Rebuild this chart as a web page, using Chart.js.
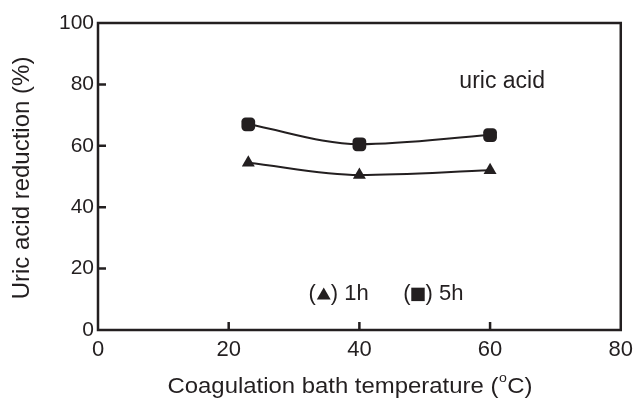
<!DOCTYPE html>
<html>
<head>
<meta charset="utf-8">
<script src="https://cdn.jsdelivr.net/npm/chart.js@4"></script>
<style>
  html, body { margin: 0; padding: 0; background: #fff; }
  #wrap { width: 640px; height: 400px; }
</style>
</head>
<body>
<div id="wrap"><canvas id="uricChart" width="640" height="400"></canvas></div>
<script>
const temps = [23, 40, 60];
const oneHour = [54.5, 50.5, 52];
const fiveHour = [67, 60.5, 63.5];
const xTicks = [0, 20, 40, 60, 80];
const yTicks = [0, 20, 40, 60, 80, 100];

const ink = '#231f20';
const font = "'Liberation Sans', Arial, Helvetica, sans-serif";

function toPoints(xs, ys) {
    return xs.map((x, i) => ({ x: x, y: ys[i] }));
}

// frame, inward ticks, axis titles and the text notes inside the plot
const framePlugin = {
    id: 'frame',
    afterDatasetsDraw(chart) {
        const ctx = chart.ctx;
        const a = chart.chartArea;
        const xs = chart.scales.x, ys = chart.scales.y;
        ctx.save();
        ctx.strokeStyle = ink;
        ctx.lineWidth = 2.5;
        ctx.strokeRect(a.left, a.top, a.right - a.left, a.bottom - a.top);
        ctx.beginPath();
        xTicks.slice(1, -1).forEach(v => {
            const px = xs.getPixelForValue(v);
            ctx.moveTo(px, a.bottom);
            ctx.lineTo(px, a.bottom - 8);
        });
        yTicks.slice(1, -1).forEach(v => {
            const py = ys.getPixelForValue(v);
            ctx.moveTo(a.left, py);
            ctx.lineTo(a.left + 8, py);
        });
        ctx.stroke();

        ctx.fillStyle = ink;
        ctx.font = '23px ' + font;
        ctx.textBaseline = 'middle';
        ctx.textAlign = 'left';
        ctx.fillText('uric acid', xs.getPixelForValue(55.3), ys.getPixelForValue(80.8));

        // legend written as text with the marker shapes
        ctx.font = '22px ' + font;
        const ly = ys.getPixelForValue(11.6);
        let lx = xs.getPixelForValue(32.2);
        ctx.fillText('(', lx, ly);
        lx += ctx.measureText('(').width;
        Chart.helpers.drawPoint(ctx, { pointStyle: 'triangle', radius: 8, rotation: 0 }, lx + 8, ly + 1);
        ctx.fillText(') 1h', lx + 15, ly);

        lx = xs.getPixelForValue(46.7);
        ctx.fillText('(', lx, ly);
        lx += ctx.measureText('(').width;
        Chart.helpers.drawPoint(ctx, { pointStyle: 'rect', radius: 9.5, rotation: 0 }, lx + 7.5, ly);
        ctx.fillText(') 5h', lx + 15, ly);

        // y axis title
        ctx.save();
        ctx.translate(22, 178);
        ctx.rotate(-Math.PI / 2);
        ctx.textAlign = 'center';
        ctx.font = '24px ' + font;
        ctx.fillText('Uric acid reduction (%)', 0, 0);
        ctx.restore();

        // x axis title with a raised "o" for degrees
        const partA = 'Coagulation bath temperature (';
        const partC = 'C)';
        ctx.font = '22px ' + font;
        const wA = ctx.measureText(partA).width;
        const wC = ctx.measureText(partC).width;
        ctx.font = '13px ' + font;
        const wO = ctx.measureText('o').width + 1;
        const total = wA + wO + wC;
        const target = 365;
        ctx.save();
        ctx.translate(350 - target / 2, 387);
        ctx.scale(target / total, 1);
        ctx.font = '22px ' + font;
        ctx.fillText(partA, 0, 0);
        ctx.font = '13px ' + font;
        ctx.fillText('o', wA + 0.5, -9);
        ctx.font = '22px ' + font;
        ctx.fillText(partC, wA + wO, 0);
        ctx.restore();
        ctx.restore();
    }
};

new Chart(document.getElementById('uricChart').getContext('2d'), {
    type: 'scatter',
    data: {
        datasets: [
            {
                label: '1h',
                data: toPoints(temps, oneHour),
                showLine: true,
                cubicInterpolationMode: 'monotone',
                borderColor: ink,
                borderWidth: 2,
                backgroundColor: ink,
                pointStyle: 'triangle',
                pointRadius: 7.5,
                pointBorderWidth: 0
            },
            {
                label: '5h',
                data: toPoints(temps, fiveHour),
                showLine: true,
                cubicInterpolationMode: 'monotone',
                borderColor: ink,
                borderWidth: 2,
                backgroundColor: ink,
                pointStyle: 'rectRounded',
                pointRadius: 8,
                pointBorderWidth: 0
            }
        ]
    },
    options: {
        responsive: false,
        animation: false,
        layout: { padding: { top: 23, right: 11, left: 0, bottom: 0 } },
        plugins: {
            legend: { display: false },
            tooltip: { enabled: false }
        },
        scales: {
            x: {
                type: 'linear',
                min: 0,
                max: 80,
                afterFit: s => { s.height = 70; },
                afterBuildTicks: s => { s.ticks = xTicks.map(v => ({ value: v })); },
                grid: { display: false, drawTicks: false },
                border: { display: false },
                ticks: { color: ink, font: { family: font, size: 22 }, padding: 7, maxRotation: 0 }
            },
            y: {
                type: 'linear',
                min: 0,
                max: 100,
                afterFit: s => { s.width = 98; },
                afterBuildTicks: s => { s.ticks = yTicks.map(v => ({ value: v })); },
                grid: { display: false, drawTicks: false },
                border: { display: false },
                ticks: { color: ink, font: { family: font, size: 21 }, padding: 4 }
            }
        }
    },
    plugins: [framePlugin]
});
</script>
</body>
</html>
